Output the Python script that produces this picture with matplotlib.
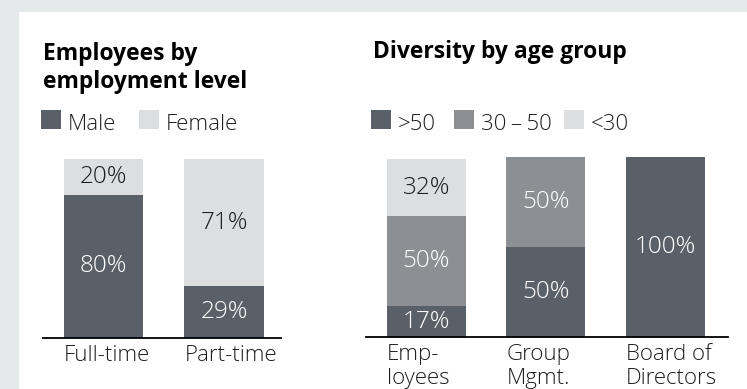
import numpy as np
import matplotlib
matplotlib.use("Agg")
import matplotlib.pyplot as plt
from matplotlib.patches import Rectangle

W, H = 747, 389
DARK = "#5a6067"
MID = "#8c9094"
LIGHT = "#dddee0"
TXT = "#1e1e1e"

# employment level split (%)
levels = ["Full-time", "Part-time"]
male = [80, 29]
female = [20, 71]

# age groups (%)
groups = ["Emp-\nloyees", "Group\nMgmt.", "Board of\nDirectors"]
over50 = [17, 50, 100]
mid30_50 = [50, 50, 0]
under30 = [32, 0, 0]

plt.rcParams["font.family"] = ["Open Sans", "DejaVu Sans"]
FS = 16
FS_TITLE = 16.5

fig = plt.figure(figsize=(W / 100, H / 100), dpi=100)
fig.patch.set_facecolor("#e6e9ea")
fig.patches.append(Rectangle((19 / W, 0), 1, (H - 12) / H, transform=fig.transFigure,
                             facecolor="white", edgecolor="none", zorder=-5))


def px_axes(x0, x1, ytop, ybase):
    return fig.add_axes([x0 / W, 1 - ybase / H, (x1 - x0) / W, (ybase - ytop) / H])


def fx(x):
    return x / W


def fy(y):
    return 1 - y / H


def style(ax, xlim, width, labels):
    ax.set_xlim(*xlim)
    ax.set_ylim(0, 100)
    ax.patch.set_visible(False)
    for s in ["top", "right", "left"]:
        ax.spines[s].set_visible(False)
    ax.spines["bottom"].set_linewidth(1.3)
    ax.spines["bottom"].set_color("black")
    ax.set_yticks([])
    x = np.arange(len(labels))
    ax.set_xticks(x - width / 2, labels, ha="left", va="top", fontsize=FS,
                  color=TXT, linespacing=1.2, fontweight="light")
    ax.tick_params(axis="x", length=0, pad=5)


def label(ax, bars, vals, color):
    ax.bar_label(bars, labels=[f"{v}%" if v else "" for v in vals],
                 label_type="center", fontsize=FS + 1.5, color=color, fontweight="light")


def legend_item(x, y, color, text):
    fig.patches.append(Rectangle((fx(x), fy(y + 19)), 20 / W, 19 / H,
                                 transform=fig.transFigure, facecolor=color,
                                 edgecolor="none"))
    fig.text(fx(x + 27), fy(y + 20), text, fontsize=FS, color=TXT, va="baseline", ha="left",
             fontweight="light")


# left: employment level
w1 = 0.656
ax1 = px_axes(43, 281, 159, 338)
b = ax1.bar(np.arange(2), male, w1, color=DARK)
label(ax1, b, male, "white")
b = ax1.bar(np.arange(2), female, w1, bottom=male, color=LIGHT)
label(ax1, b, female, TXT)
style(ax1, (-0.502, 1.473), w1, levels)

fig.text(fx(43), fy(88), "Employees by\nemployment level", fontsize=FS_TITLE, fontweight="bold",
         color="black", ha="left", va="baseline", linespacing=1.2)
legend_item(41, 110, DARK, "Male")
legend_item(139, 110, LIGHT, "Female")

# right: age groups
w2 = 0.661
x = np.arange(3)
ax2 = px_axes(366, 728, 157, 337)
b = ax2.bar(x, over50, w2, color=DARK)
label(ax2, b, over50, "white")
b = ax2.bar(x, mid30_50, w2, bottom=over50, color=MID)
label(ax2, b, mid30_50, "white")
b = ax2.bar(x, under30, w2, bottom=np.add(over50, mid30_50), color=LIGHT)
label(ax2, b, under30, TXT)
style(ax2, (-0.506, 2.523), w2, groups)

fig.text(fx(373), fy(58), "Diversity by age group", fontsize=FS_TITLE, fontweight="bold",
         color="black", ha="left", va="baseline")
legend_item(371, 110, DARK, ">50")
legend_item(454, 110, MID, "30\u2009\u2013\u200950")
legend_item(564, 110, LIGHT, "<30")

fig.savefig("out.png", dpi=100, facecolor=fig.get_facecolor())
